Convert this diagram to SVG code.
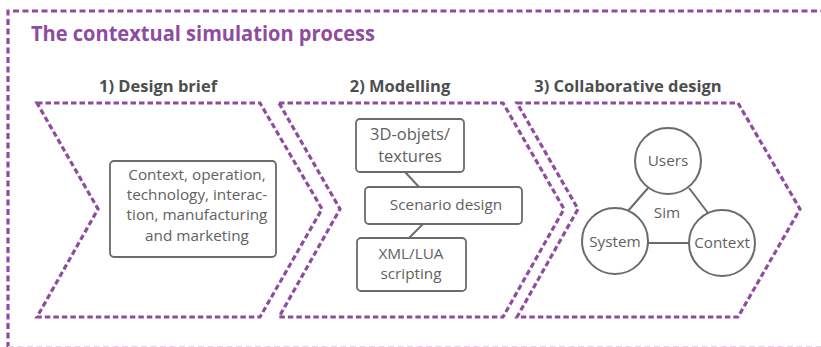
<svg xmlns="http://www.w3.org/2000/svg" width="821" height="347" viewBox="0 0 821 347">
  <style>
    .frame { fill: none; stroke: #8f4c9f; stroke-width: 3.2; stroke-dasharray: 6 3.5; }
    .frame-faint { fill: none; stroke: #e6d3ea; stroke-width: 1.2; stroke-dasharray: 6 3.5; }
    .chevron { fill: none; stroke: #8f4c9f; stroke-width: 3.2; stroke-dasharray: 5.5 3; stroke-linejoin: miter; }
    .title { font-family: "Open Sans", "Liberation Sans", sans-serif; font-weight: 700; font-size: 20.5px; fill: #8f4c9f; }
    .step { font-family: "Open Sans", "Liberation Sans", sans-serif; font-weight: 700; font-size: 16.5px; fill: #4d4e50; text-anchor: middle; }
    .box { fill: #ffffff; stroke: #6b6b6b; stroke-width: 1.8; }
    .ring { fill: #ffffff; stroke: #6b6b6b; stroke-width: 2; }
    .label { font-family: "Open Sans", "Liberation Sans", sans-serif; font-size: 15.3px; fill: #616161; text-anchor: middle; }
    .link { stroke: #6b6b6b; stroke-width: 2; fill: none; }
  </style>

  <!-- outer dashed frame (top and left edges, bottom edge clipped) -->
  <path class="frame" d="M8,348 L8,11 L830,11"/>
  <line class="frame-faint" x1="8" y1="346.5" x2="821" y2="346.5"/>

  <text class="title" x="31" y="41" textLength="344" lengthAdjust="spacingAndGlyphs">The contextual simulation process</text>

  <!-- step headings -->
  <text class="step" x="158" y="92">1) Design brief</text>
  <text class="step" x="400" y="92">2) Modelling</text>
  <text class="step" x="628" y="92">3) Collaborative design</text>

  <!-- process chevrons -->
  <g id="step1">
    <path class="chevron" d="M37,103 L260,103 L322,209 L260,317 L37,317 L98,209 Z"/>
  </g>
  <g id="step2">
    <path class="chevron" d="M279,103 L503,103 L564,209 L503,317 L279,317 L340,209 Z"/>
  </g>
  <g id="step3">
    <path class="chevron" d="M517,103 L738,103 L800,209 L738,317 L517,317 L578,209 Z"/>
  </g>

  <!-- connectors -->
  <g id="connectors">
    <line class="link" x1="405" y1="172" x2="419" y2="187"/>
    <line class="link" x1="423" y1="224" x2="409" y2="238"/>
    <line class="link" x1="648" y1="188" x2="628" y2="211"/>
    <line class="link" x1="689" y1="188" x2="708" y2="213"/>
    <line class="link" x1="648" y1="243" x2="689" y2="243"/>
  </g>

  <!-- step 1 content -->
  <g id="brief">
    <rect class="box" x="110" y="161" width="166" height="96" rx="4"/>
    <text class="label" x="197" y="180">Context, operation,</text>
    <text class="label" x="197" y="200">technology, interac-</text>
    <text class="label" x="197" y="220">tion, manufacturing</text>
    <text class="label" x="197" y="241">and marketing</text>
  </g>

  <!-- step 2 content -->
  <g id="objects">
    <rect class="box" x="356" y="119" width="108" height="53" rx="4"/>
    <text class="label" x="410" y="140" style="font-size:16.5px">3D-objets/</text>
    <text class="label" x="410" y="162" style="font-size:16.5px">textures</text>
  </g>
  <g id="scenario">
    <rect class="box" x="365" y="187" width="157" height="37" rx="4"/>
    <text class="label" x="446" y="210">Scenario design</text>
  </g>
  <g id="scripting">
    <rect class="box" x="357" y="238" width="109" height="53" rx="4"/>
    <text class="label" x="411" y="259">XML/LUA</text>
    <text class="label" x="411" y="279">scripting</text>
  </g>

  <!-- step 3 content -->
  <g id="sim">
    <text class="label" x="667" y="218">Sim</text>
  </g>
  <g id="users">
    <circle class="ring" cx="668" cy="161" r="33"/>
    <text class="label" x="668" y="166">Users</text>
  </g>
  <g id="system">
    <circle class="ring" cx="615" cy="241" r="33"/>
    <text class="label" x="615" y="247">System</text>
  </g>
  <g id="context">
    <circle class="ring" cx="722" cy="243" r="33"/>
    <text class="label" x="722" y="248">Context</text>
  </g>
</svg>
